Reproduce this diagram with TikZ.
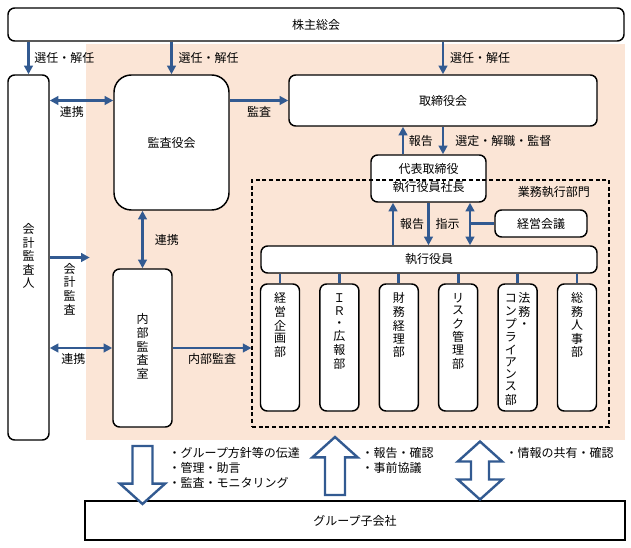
\documentclass[tikz,border=0pt]{standalone}
\usepackage{fontspec}
\usepackage{tikz}
\usetikzlibrary{positioning, shapes.arrows, arrows.meta, calc}
\newfontfamily\jpfont{Noto Sans CJK JP}
\definecolor{lightsalmon}{RGB}{251,229,214}
\definecolor{linkblue}{RGB}{50,90,145}
\newcommand{\tate}[1]{\begin{tabular}[t]{@{}c@{}}#1\end{tabular}}

\begin{document}
\begin{tikzpicture}[
  x=0.75pt, y=-0.75pt,
  every node/.style={font=\jpfont\fontsize{9}{11}\selectfont},
  box/.style={rectangle, rounded corners=5pt, draw, line width=1.1pt, fill=white,
              inner sep=0pt, align=center},
  tatefont/.style={font=\jpfont\fontsize{9}{9}\selectfont},
  tatebox/.style={box, tatefont},
  dept/.style={tatebox, minimum width=29.25pt, text height=14pt, text depth=81.25pt},
  arr/.style={draw=linkblue, line width=2pt, -{Triangle[length=6.5pt,width=6.5pt]}},
  darr/.style={arr, {Triangle[length=6.5pt,width=6.5pt]}-{Triangle[length=6.5pt,width=6.5pt]}},
  link/.style={draw=linkblue, line width=2pt},
  hollow/.style={single arrow, draw=linkblue, line width=1.8pt, fill=white, inner sep=0pt,
                 text height=6.6pt, text depth=6.6pt, minimum width=0pt,
                 minimum height=43.5pt,
                 single arrow head extend=9.5pt, single arrow tip angle=96},
  hollowd/.style={double arrow, draw=linkblue, line width=1.8pt, fill=white, inner sep=0pt,
                  text height=5.85pt, text depth=5.85pt, minimum width=0pt,
                  minimum height=43.5pt,
                  double arrow head extend=9.9pt, double arrow tip angle=96}
]
  \useasboundingbox (0,0) rectangle (631,548);

  \node[fill=lightsalmon, inner sep=0pt, minimum width=404.25pt, minimum height=297pt]
    (bg) at (355.5,242) {};

  \node[box, minimum width=462pt, minimum height=24.75pt] (kabu) at (316,24.5) {株主総会};
  \node[tatebox, minimum width=30.75pt, minimum height=273.75pt] (kaikei) at (28.5,257.5)
    {\tate{会\\計\\監\\査\\人}};
  \node[box, rounded corners=13pt, minimum width=86.25pt, minimum height=101.25pt]
    (kansa) at (171.5,142.5) {監査役会};
  \node[box, minimum width=231pt, minimum height=38.25pt] (torishimari) at (443,100.5) {取締役会};
  \node[box, minimum width=86.25pt, minimum height=35.25pt,
        font=\jpfont\fontsize{9}{13.5}\selectfont] (shacho) at (428.5,178.5)
    {代表取締役\\執行役員社長};
  \node[tatebox, minimum width=44.25pt, minimum height=118.5pt] (naibu) at (142.5,348)
    {\tate{内\\部\\監\\査\\室}};

  \node[draw, dashed, line width=0.8pt, dash pattern=on 3pt off 2pt, minimum width=267.75pt,
        minimum height=185.25pt] (gyomu) at (430.5,303.5) {};
  \node[anchor=east] (gyomulbl) at ($(gyomu.north east)+(-15,13)$) {業務執行部門};

  \node[box, minimum width=69pt, minimum height=20.25pt] (kaigi) at (541,223.5) {経営会議};
  \node[box, minimum width=252pt, minimum height=20.25pt] (yakuin) at (429,259.5) {執行役員};

  \foreach \txt [count=\i] in {
      {\tate{経\\営\\企\\画\\部}},
      {\tate{Ｉ\\Ｒ\\・\\広\\報\\部}},
      {\tate{財\\務\\経\\理\\部}},
      {\tate{リ\\ス\\ク\\管\\理\\部}},
      {\tate{コ\\ン\\プ\\ラ\\イ\\ア\\ン\\ス\\部}\hspace{1pt}\tate{法\\務\\・}},
      {\tate{総\\務\\人\\事\\部}}}
    \node[dept] (bu\i) at ({280+59.4*(\i-1)},347.5) {\txt};

  \node[draw, line width=1.8pt, fill=white, minimum width=405pt, minimum height=29.25pt]
    (kogaisha) at (355,520.5) {グループ子会社};

  \draw[arr] (kaikei.north |- kabu.south) -- (kaikei.north)
    node[midway, right] {選任・解任};
  \draw[arr] (kansa.north |- kabu.south) -- (kansa.north)
    node[midway, right=1pt] {選任・解任};
  \draw[arr] (torishimari.north |- kabu.south) -- (torishimari.north)
    node[midway, right=1pt] {選任・解任};

  \draw[darr] (kaikei.east |- torishimari.west) -- (kansa.west |- torishimari.west)
    node[pos=0.35, below] {連携};
  \draw[arr] (kansa.east |- torishimari.west) -- (torishimari.west)
    node[midway, below] {監査};

  \coordinate (hokoku1) at ($(shacho.north)+(-25.5,0)$);
  \draw[arr] (hokoku1) -- (hokoku1 |- torishimari.south)
    node[midway, right] {報告};
  \draw[arr] (torishimari.south) -- (torishimari.south |- shacho.north)
    node[midway, right=5pt] {選定・解職・監督};

  \coordinate (hokoku2) at ($(shacho.south)+(-35.5,0)$);
  \draw[arr] (hokoku2 |- yakuin.north) -- (hokoku2)
    node[midway, right=1pt] {報告};
  \draw[arr] (shacho.south) -- (shacho.south |- yakuin.north)
    node[midway, right=1pt] {指示};
  \coordinate (kaigisen) at ($(shacho.south)+(41.5,0)$);
  \draw[darr] (kaigisen) -- (kaigisen |- yakuin.north);
  \draw[link] (kaigi.west) -- (kaigi.west -| kaigisen);

  \foreach \i in {1,...,6}
    \draw[link] (bu\i.north) -- (bu\i.north |- yakuin.south);

  \draw[darr] (naibu.north) -- (naibu.north |- kansa.south)
    node[midway, right=5pt] {連携};
  \draw[arr] (kaikei.east) -- ($(kaikei.east -| bg.west)+(4,0)$)
    node[midway, below, tatefont] {\tate{会\\計\\監\\査}};
  \draw[darr] (kaikei.east |- naibu.west) -- (naibu.west)
    node[pos=0.38, below] {連携};
  \draw[arr] (naibu.east) -- (naibu.east -| gyomu.west)
    node[midway, below] {内部監査};

  \node[hollow, rotate=-90] (dentatsu) at (142.5,470.5) {};
  \node[hollow, rotate=90] (kakunin) at (335,470.5) {};
  \node[hollowd, rotate=90] (kyoyu) at (480,470.5) {};

  \node[anchor=north west, align=left, font=\jpfont\fontsize{9}{11.25}\selectfont]
    (dentatsulbl) at (164,443) {・グループ方針等の伝達\\・管理・助言\\・監査・モニタリング};
  \node[anchor=north west, align=left, font=\jpfont\fontsize{9}{11.25}\selectfont]
    (kakuninlbl) at (357,443) {・報告・確認\\・事前協議};
  \node[anchor=north west, align=left, font=\jpfont\fontsize{9}{11.25}\selectfont]
    (kyoyulbl) at (501,443) {・情報の共有・確認};
\end{tikzpicture}
\end{document}
